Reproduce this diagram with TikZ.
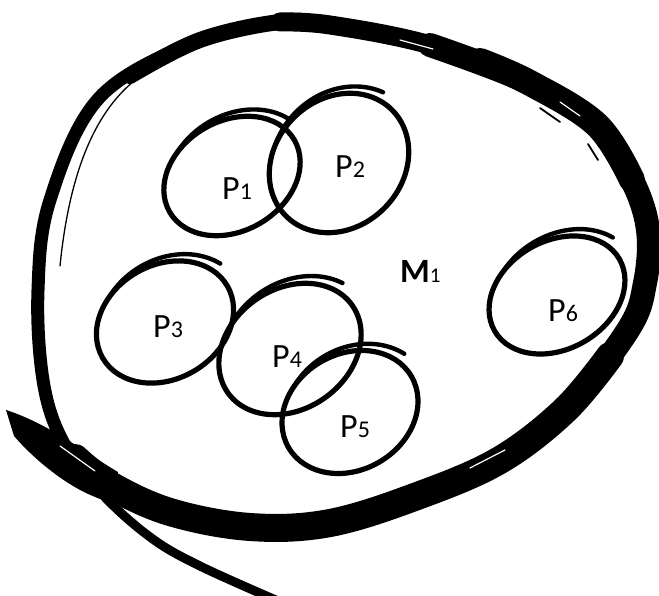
\documentclass[tikz,border=0pt]{standalone}
\usepackage{fontspec}
\setmainfont{Carlito}
\usetikzlibrary{shapes.geometric}
\begin{document}
\begin{tikzpicture}[x=1pt,y=1pt,
  pell/.style={draw, ellipse, line width=5.2pt, inner sep=0pt},
  flare/.style={line width=4.4pt, line cap=round},
  lbl/.style={anchor=base west, inner sep=0pt, font=\fontsize{34}{34}\selectfont},
  band/.style={line cap=round, line join=round},
  bristle/.style={line width=1.8pt, line cap=round},
  streak/.style={white, line width=1.2pt, line cap=round}]
\useasboundingbox (0,0) rectangle (659,596);
\clip (0,0) rectangle (659,596);

% ---- big lasso loop ----
\draw[band, line width=9pt] plot[smooth, tension=0.6] coordinates {
  (60,148) (110,111) (170,84) (250,69) (330,73) (420,101) (500,136) (565,186)
  (628,266) (645,313) (648,366) (632,416) (597,471) (530,513) (430,551)
  (330,571) (280,574) (200,556) (100,499) (50,396) (38,306) (43,216)
  (62,156) (100,104) (150,59) (200,30) (285,-8)};
\draw[band, line width=13pt] plot[smooth, tension=0.6] coordinates {
  (280,574) (200,556) (100,499) (50,396) (38,306) (43,216) (62,156) (100,104)};
\draw[band, line width=16pt] plot[smooth, tension=0.6] coordinates {
  (430,551) (330,571) (280,574) (200,556) (130,520)};
\draw[band, line width=19pt] plot[smooth, tension=0.6] coordinates {
  (530,513) (430,551) (330,571) (280,574)};
\draw[band, line width=24pt] plot[smooth, tension=0.6] coordinates {
  (500,136) (565,186) (628,266) (645,313) (648,366) (632,416) (597,471) (530,513) (430,551)};
\draw[band, line width=28pt] plot[smooth, tension=0.6] coordinates {
  (75,138) (110,111) (170,84) (250,69) (330,73) (420,101) (500,136) (565,186) (610,240)};
\draw[band, line width=26pt] plot[smooth, tension=0.6] coordinates {
  (632,416) (597,471) (530,513) (480,535)};
% tail
\fill (6,186) .. controls (50,172) and (90,140) .. (118,124) -- (112,94)
  .. controls (80,100) and (40,130) .. (14,160) -- cycle;
% inner thin double line on the left
\draw[bristle, line width=1.3pt] (165,534) .. controls (110,510) and (72,450) .. (60,330);
% bristles attached to the band
\draw[bristle] (470,533) -- (505,519);
\draw[bristle] (540,488) -- (560,474);
\draw[bristle] (588,452) -- (598,436);
% white streaks in the band
\draw[streak] (400,556) -- (433,547);
\draw[streak] (560,494) -- (580,480);
\draw[streak] (470,128) -- (505,146);
\draw[streak] (60,150) -- (95,125);

% ---- sets ----
\node[pell, minimum width=144, minimum height=110, rotate=30] (e1) at (232,420) {};
\node[pell, minimum width=150, minimum height=128, rotate=45] (e2) at (339,433) {};
\node[pell, minimum width=144, minimum height=114, rotate=30] (e3) at (165,274) {};
\node[pell, minimum width=152, minimum height=120, rotate=35] (e4) at (290,247) {};
\node[pell, minimum width=142, minimum height=116, rotate=30] (e5) at (350,184) {};
\node[pell, minimum width=144, minimum height=108, rotate=30] (e6) at (557,301) {};

% outer overshooting strokes at the top right of each set
\begin{scope}[shift={(e1.center)}, rotate=30]
  \draw[flare] plot[smooth, domain=20:120, samples=25, variable=\t]
    ({(72+10*(120-\t)/100)*cos(\t)}, {(55+10*(120-\t)/100)*sin(\t)});
\end{scope}
\begin{scope}[shift={(e2.center)}, rotate=45]
  \draw[flare] plot[smooth, domain=15:115, samples=25, variable=\t]
    ({(75+9*(115-\t)/100)*cos(\t)}, {(64+9*(115-\t)/100)*sin(\t)});
\end{scope}
\begin{scope}[shift={(e3.center)}, rotate=30]
  \draw[flare] plot[smooth, domain=20:120, samples=25, variable=\t]
    ({(72+10*(120-\t)/100)*cos(\t)}, {(57+10*(120-\t)/100)*sin(\t)});
\end{scope}
\begin{scope}[shift={(e4.center)}, rotate=35]
  \draw[flare] plot[smooth, domain=20:120, samples=25, variable=\t]
    ({(76+10*(120-\t)/100)*cos(\t)}, {(60+10*(120-\t)/100)*sin(\t)});
\end{scope}
\begin{scope}[shift={(e5.center)}, rotate=30]
  \draw[flare] plot[smooth, domain=20:120, samples=25, variable=\t]
    ({(71+10*(120-\t)/100)*cos(\t)}, {(58+10*(120-\t)/100)*sin(\t)});
\end{scope}
\begin{scope}[shift={(e6.center)}, rotate=30]
  \draw[flare] plot[smooth, domain=20:120, samples=25, variable=\t]
    ({(72+10*(120-\t)/100)*cos(\t)}, {(54+10*(120-\t)/100)*sin(\t)});
\end{scope}

% ---- labels ----
\node[lbl] (l1) at (222,396) {P{\fontsize{24}{24}\selectfont 1}};
\node[lbl] (l2) at (335,418) {P{\fontsize{24}{24}\selectfont 2}};
\node[lbl] (l3) at (153,258) {P{\fontsize{24}{24}\selectfont 3}};
\node[lbl] (l4) at (272,228) {P{\fontsize{24}{24}\selectfont 4}};
\node[lbl] (l5) at (340,158) {P{\fontsize{24}{24}\selectfont 5}};
\node[lbl] (l6) at (548,274) {P{\fontsize{24}{24}\selectfont 6}};
\node[lbl, font=\fontsize{34}{34}\selectfont\bfseries] (m1) at (400,313)
  {M{\fontsize{21}{21}\selectfont\mdseries 1}};
\end{tikzpicture}
\end{document}
